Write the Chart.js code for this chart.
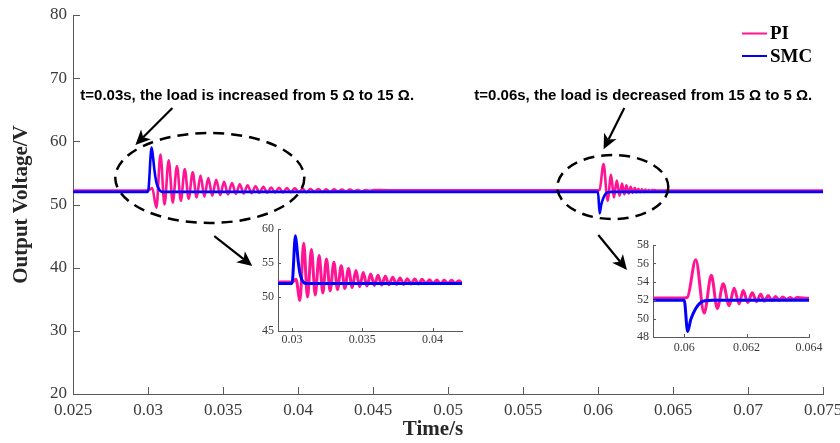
<!DOCTYPE html>
<html><head><meta charset="utf-8">
<script src="https://cdn.jsdelivr.net/npm/chart.js@4/dist/chart.umd.min.js"></script>
<style>
html,body{margin:0;padding:0;background:#fff;width:840px;height:443px;overflow:hidden}
#wrap{position:relative;width:840px;height:443px}
canvas{position:absolute;display:block}
</style></head><body>
<div id="wrap">
<canvas id="main" width="840" height="443" style="left:0;top:0;width:840px;height:443px"></canvas>
<canvas id="ins1" width="232" height="136" style="left:238px;top:219px;width:232px;height:136px"></canvas>
<canvas id="ins2" width="222" height="126" style="left:613px;top:235px;width:222px;height:126px"></canvas>
</div>
<script>
// ---------------- DATA ----------------
const seriesNames = ['PI', 'SMC'];

const xTickVals = [0.025, 0.03, 0.035, 0.04, 0.045, 0.05, 0.055, 0.06, 0.065, 0.07, 0.075];
const xTickLabels = ['0.025', '0.03', '0.035', '0.04', '0.045', '0.05', '0.055', '0.06', '0.065', '0.07', '0.075'];
const yTickVals = [20, 30, 40, 50, 60, 70, 80];
const yTickLabels = ['20', '30', '40', '50', '60', '70', '80'];

const in1XTickVals = [0.03, 0.035, 0.04];
const in1XTickLabels = ['0.03', '0.035', '0.04'];
const in1YTickVals = [45, 50, 55, 60];
const in1YTickLabels = ['45', '50', '55', '60'];

const in2XTickVals = [0.06, 0.062, 0.064];
const in2XTickLabels = ['0.06', '0.062', '0.064'];
const in2YTickVals = [48, 50, 52, 54, 56, 58];
const in2YTickLabels = ['48', '50', '52', '54', '56', '58'];

// PI output voltage (start, oscillation extremes, settling)
const piTime = [
  0.02500, 0.03000, 0.03028,
  0.03056, 0.03083, 0.03110, 0.03138, 0.03165, 0.03193, 0.03219, 0.03245,
  0.03271, 0.03298, 0.03324, 0.03350, 0.03376, 0.03402, 0.03428, 0.03455,
  0.03481, 0.03507, 0.03533, 0.03560, 0.03586, 0.03612, 0.03638, 0.03664,
  0.03690, 0.03717, 0.03743, 0.03769, 0.03795, 0.03821, 0.03847, 0.03874,
  0.03900, 0.03926, 0.03952, 0.03979, 0.04005, 0.04031, 0.04057, 0.04083,
  0.04110, 0.04136, 0.04162, 0.04188, 0.04214, 0.04240, 0.04267, 0.04293,
  0.04320, 0.04346, 0.04372, 0.04398, 0.04425, 0.04451, 0.04478, 0.04504,
  0.04600, 0.06000, 0.06010,
  0.06037, 0.06064, 0.06087, 0.06106, 0.06125, 0.06144, 0.06160, 0.06176,
  0.06189, 0.06204, 0.06218, 0.06232, 0.06245, 0.06257, 0.06269, 0.06281,
  0.06293, 0.06304, 0.06316, 0.06328, 0.06339, 0.06351, 0.06362,
  0.06400, 0.07500
];
const piVolt = [
  52.2, 52.2, 52.6,
  49.5, 57.9, 50.0, 57.0, 50.3, 56.1, 50.6, 55.6,
  50.9, 55.1, 51.1, 54.6, 51.25, 54.2, 51.4, 53.9,
  51.5, 53.6, 51.6, 53.4, 51.7, 53.2, 51.75, 53.05,
  51.8, 52.9, 51.85, 52.8, 51.85, 52.7, 51.9, 52.65,
  51.9, 52.6, 51.95, 52.55, 51.95, 52.5, 51.95, 52.45,
  52.0, 52.45, 52.0, 52.4, 52.0, 52.4, 52.05, 52.35,
  52.05, 52.35, 52.1, 52.3, 52.1, 52.3, 52.15, 52.3,
  52.25, 52.25, 52.3,
  56.4, 50.6, 54.7, 51.1, 53.8, 51.4, 53.3, 51.6,
  53.05, 51.75, 52.8, 51.85, 52.65, 51.9, 52.5, 51.95,
  52.4, 52.0, 52.35, 52.05, 52.3, 52.1, 52.3,
  52.2, 52.2
];

// SMC output voltage
const smcTime = [0.02500, 0.03000, 0.03024, 0.03034, 0.03043, 0.03055, 0.03067, 0.03080, 0.03095,
                 0.06000, 0.06011, 0.06021, 0.06037, 0.06053, 0.06069, 0.06090, 0.07500];
const smcVolt = [52.0, 52.0, 59.0, 57.4, 55.4, 53.6, 52.7, 52.2, 52.0,
                 52.0, 48.6, 49.9, 51.1, 51.75, 51.95, 52.0, 52.0];

// ---------------- STYLE ----------------
const PINK = '#ff1493';
const BLUE = '#0000ff';
const AXIS = '#5a5a5a';
const TICKTXT = '#3a3a3a';
const SERIF = '"Liberation Serif", "Times New Roman", serif';
const SANS = '"Liberation Sans", Arial, sans-serif';

// annotations, placed in data units of the main axes
const notes = {
  ellipses: [
    {t: 0.03412, v: 54.2, rt: 0.0063, rv: 7.12},
    {t: 0.060987, v: 52.77, rt: 0.0037, rv: 5.07}
  ],
  arrows: [
    {t0: 0.031627, v0: 65.28, t1: 0.029160, v1: 59.42},
    {t0: 0.061753, v0: 65.28, t1: 0.060373, v1: 58.74},
    {t0: 0.034420, v0: 45.01, t1: 0.036953, v1: 40.26},
    {t0: 0.060020, v0: 45.17, t1: 0.061933, v1: 39.63}
  ],
  fontPx: 15,
  texts: [
    {text: 't=0.03s, the load is increased from 5 \u03A9 to 15 \u03A9.', t: 0.025487, v: 66.54},
    {text: 't=0.06s, the load is decreased from 15 \u03A9 to 5 \u03A9.', t: 0.051753, v: 66.54}
  ]
};

const pts = (ts, vs) => ts.map((t, i) => ({x: t, y: vs[i]}));

const inwardTicks = {
  id: 'inwardTicks',
  afterDraw(chart, args, o) {
    const {ctx, chartArea: a, scales: {x, y}} = chart;
    ctx.save();
    ctx.strokeStyle = o.color; ctx.lineWidth = 1;
    x.ticks.forEach(t => {
      const p = Math.round(x.getPixelForValue(t.value)) + 0.5;
      ctx.beginPath(); ctx.moveTo(p, a.bottom); ctx.lineTo(p, a.bottom - o.len); ctx.stroke();
    });
    y.ticks.forEach(t => {
      const p = Math.round(y.getPixelForValue(t.value)) + 0.5;
      ctx.beginPath(); ctx.moveTo(a.left, p); ctx.lineTo(a.left + o.len, p); ctx.stroke();
    });
    ctx.restore();
  }
};

function arrow(ctx, x0, y0, x1, y1) {
  const ang = Math.atan2(y1 - y0, x1 - x0);
  const L = 15, W = 7, N = 4;
  const bx = x1 - L * Math.cos(ang), by = y1 - L * Math.sin(ang);
  const nx = x1 - (L - N) * Math.cos(ang), ny = y1 - (L - N) * Math.sin(ang);
  ctx.beginPath(); ctx.moveTo(x0, y0); ctx.lineTo(nx, ny); ctx.stroke();
  ctx.beginPath();
  ctx.moveTo(x1, y1);
  ctx.lineTo(bx + W * Math.sin(ang), by - W * Math.cos(ang));
  ctx.lineTo(nx, ny);
  ctx.lineTo(bx - W * Math.sin(ang), by + W * Math.cos(ang));
  ctx.closePath(); ctx.fill();
}

const overlay = {
  id: 'overlay',
  afterDraw(chart) {
    const {ctx, chartArea: a, scales: {x, y}} = chart;
    ctx.save();
    // dashed ellipses
    ctx.strokeStyle = '#000'; ctx.lineWidth = 2.5; ctx.setLineDash([11, 7]);
    notes.ellipses.forEach(e => {
      const cx = x.getPixelForValue(e.t), cy = y.getPixelForValue(e.v);
      const rx = Math.abs(x.getPixelForValue(e.t + e.rt) - cx);
      const ry = Math.abs(y.getPixelForValue(e.v + e.rv) - cy);
      ctx.beginPath(); ctx.ellipse(cx, cy, rx, ry, 0, 0, Math.PI * 2); ctx.stroke();
    });
    ctx.setLineDash([]);
    // arrows
    ctx.lineWidth = 2.2; ctx.fillStyle = '#000';
    notes.arrows.forEach(r => arrow(ctx, x.getPixelForValue(r.t0), y.getPixelForValue(r.v0),
                                        x.getPixelForValue(r.t1), y.getPixelForValue(r.v1)));
    // annotation texts
    ctx.textAlign = 'left'; ctx.textBaseline = 'alphabetic';
    ctx.font = 'bold ' + notes.fontPx + 'px ' + SANS;
    notes.texts.forEach(n => ctx.fillText(n.text, x.getPixelForValue(n.t), y.getPixelForValue(n.v)));
    // legend
    ctx.textBaseline = 'middle';
    ctx.font = 'bold 19px ' + SERIF;
    chart.data.datasets.forEach((d, i) => {
      const ly = 33.5 + i * 22.5;
      ctx.strokeStyle = d.borderColor; ctx.lineWidth = 2;
      ctx.beginPath(); ctx.moveTo(742, ly); ctx.lineTo(767, ly); ctx.stroke();
      ctx.fillStyle = '#000';
      ctx.fillText(d.label, 770, ly + 1);
    });
    // axis titles
    ctx.fillStyle = '#262626';
    ctx.font = 'bold 21px ' + SERIF;
    ctx.textAlign = 'center'; ctx.textBaseline = 'middle';
    ctx.fillText('Time/s', 433, 430);
    ctx.translate(22, (a.top + a.bottom) / 2);
    ctx.rotate(-Math.PI / 2);
    ctx.fillText('Output Voltage/V', 0, 0);
    ctx.restore();
  }
};

function build(id, cfg) {
  return new Chart(document.getElementById(id), {
    type: 'line',
    data: {
      datasets: [
        {label: seriesNames[0], data: pts(piTime, piVolt), borderColor: PINK, borderWidth: cfg.lw,
         pointRadius: 0, cubicInterpolationMode: 'monotone', order: 1},
        {label: seriesNames[1], data: pts(smcTime, smcVolt), borderColor: BLUE, borderWidth: cfg.lw,
         pointRadius: 0, cubicInterpolationMode: 'monotone', order: 0}
      ]
    },
    options: {
      responsive: false, animation: false, devicePixelRatio: 1,
      layout: {padding: cfg.pad},
      events: [],
      plugins: {legend: {display: false}, tooltip: {enabled: false},
                inwardTicks: {color: AXIS, len: cfg.tickLen}},
      scales: {
        x: {
          type: 'linear', min: cfg.xmin, max: cfg.xmax,
          grid: {display: false, drawTicks: false}, border: {display: true, color: AXIS, width: 1},
          ticks: {autoSkip: false, maxRotation: 0, color: TICKTXT, padding: cfg.xPad,
                  font: {family: SERIF, size: cfg.fs}, callback: (v, i) => cfg.xl[i]},
          afterBuildTicks: s => { s.ticks = cfg.xt.map(v => ({value: v})); },
          afterFit: s => { s.height = cfg.xH; s.paddingLeft = 0; s.paddingRight = 0; }
        },
        y: {
          type: 'linear', min: cfg.ymin, max: cfg.ymax,
          grid: {display: false, drawTicks: false}, border: {display: true, color: AXIS, width: 1},
          ticks: {autoSkip: false, color: TICKTXT, padding: cfg.yPad,
                  font: {family: SERIF, size: cfg.fs}, callback: (v, i) => cfg.yl[i]},
          afterBuildTicks: s => { s.ticks = cfg.yt.map(v => ({value: v})); },
          afterFit: s => { s.width = cfg.yW; s.paddingTop = 0; s.paddingBottom = 0; }
        }
      }
    },
    plugins: cfg.main ? [inwardTicks, overlay] : [inwardTicks]
  });
}

build('main', {main: true, lw: 2.6, xmin: 0.025, xmax: 0.075, ymin: 20, ymax: 80,
  xt: xTickVals, xl: xTickLabels, yt: yTickVals, yl: yTickLabels,
  pad: {left: 0, right: 17, top: 15, bottom: 0}, xH: 49, yW: 73, fs: 17, xPad: 6, yPad: 6, tickLen: 7});

build('ins1', {main: false, lw: 3, xmin: 0.029, xmax: 0.0421, ymin: 45, ymax: 60,
  xt: in1XTickVals, xl: in1XTickLabels, yt: in1YTickVals, yl: in1YTickLabels,
  pad: {left: 0, right: 8, top: 10, bottom: 0}, xH: 24, yW: 40, fs: 12, xPad: 2, yPad: 4, tickLen: 3});

build('ins2', {main: false, lw: 3, xmin: 0.059, xmax: 0.064, ymin: 48, ymax: 58,
  xt: in2XTickVals, xl: in2XTickLabels, yt: in2YTickVals, yl: in2YTickLabels,
  pad: {left: 0, right: 26, top: 10, bottom: 0}, xH: 24, yW: 40, fs: 12, xPad: 4, yPad: 4, tickLen: 3});
</script>
</body></html>
